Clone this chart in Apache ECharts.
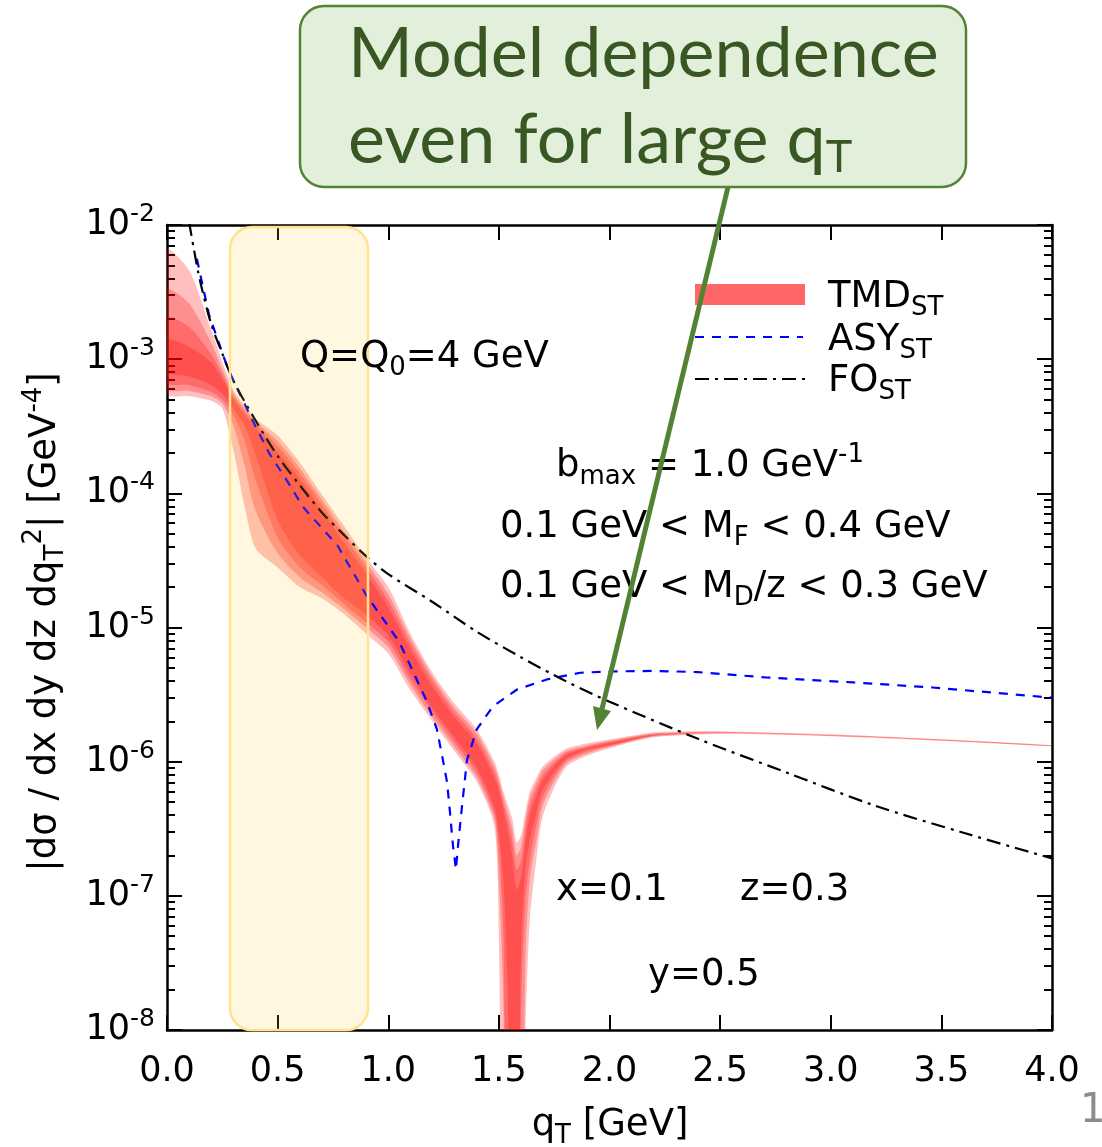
<!DOCTYPE html>
<html>
<head>
<meta charset="utf-8">
<script src="https://cdn.jsdelivr.net/npm/echarts@6/dist/echarts.min.js"></script>
<style>
  html, body { margin: 0; padding: 0; background: #fff; }
  #chart { width: 1102px; height: 1147px; }
</style>
</head>
<body>
<div id="chart"></div>
<script>
// q_T grid for the TMD band (GeV)
const tmdQ = [0, 0.1, 0.2, 0.25, 0.3, 0.35, 0.4, 0.5, 0.6, 0.7, 0.8, 0.9, 1.0, 1.1, 1.2, 1.3, 1.4, 1.48, 1.5,
  1.52, 1.54, 1.56, 1.58, 1.6, 1.62, 1.64, 1.67, 1.7, 1.8, 1.9, 2.0, 2.2, 2.5, 3.0, 3.5, 4.0]
// nested model bands, 0 = outermost, 3 = innermost (upper / lower edge)
const tmdHi0 = [6.5e-3, 4.6e-3, 1.65e-3, 9.5e-4, 5.9e-4, 4.5e-4, 3.6e-4, 2.7e-4, 1.7e-4, 9.8e-5, 5.7e-5, 3.3e-5,
  2.0e-5, 9.0e-6, 4.6e-6, 2.7e-6, 1.74e-6, 1.0e-6, 8.0e-7, 6.0e-7, 4.8e-7, 3.8e-7, 2.5e-7, 2.8e-7, 4.2e-7, 6.0e-7,
  7.6e-7, 9.3e-7, 1.24e-6, 1.37e-6, 1.46e-6, 1.65e-6, 1.68e-6, 1.60e-6, 1.47e-6, 1.33e-6]
const tmdLo0 = [5.5e-4, 5.3e-4, 4.9e-4, 4.3e-4, 2.1e-4, 8.1e-5, 3.9e-5, 2.8e-5, 2.0e-5, 1.65e-5, 1.26e-5, 9.0e-6,
  6.4e-6, 3.4e-6, 2.0e-6, 1.19e-6, 7.1e-7, 3.3e-7, 4.7e-8, 1e-10, 1e-10, 1e-10, 1e-10, 1e-10, 9e-9, 6.6e-8,
  1.9e-7, 4.0e-7, 9.0e-7, 1.11e-6, 1.26e-6, 1.52e-6, 1.61e-6, 1.55e-6, 1.43e-6, 1.30e-6]
const tmdHi1 = [3.28e-3, 2.6e-3, 1.33e-3, 8.4e-4, 5.6e-4, 4.3e-4, 3.45e-4, 2.45e-4, 1.54e-4, 9.0e-5, 5.2e-5, 3.06e-5,
  1.77e-5, 8.3e-6, 4.3e-6, 2.5e-6, 1.62e-6, 9.2e-7, 7.3e-7, 5.5e-7, 4.2e-7, 3.2e-7, 2.0e-7, 2.3e-7, 3.7e-7, 5.4e-7,
  7.0e-7, 8.7e-7, 1.19e-6, 1.32e-6, 1.43e-6, 1.62e-6, 1.67e-6, 1.585e-6, 1.46e-6, 1.32e-6]
const tmdLo1 = [6.0e-4, 5.8e-4, 5.3e-4, 4.7e-4, 3.2e-4, 1.62e-4, 7.45e-5, 3.57e-5, 2.37e-5, 1.83e-5, 1.37e-5, 1.0e-5,
  7.1e-6, 3.75e-6, 2.13e-6, 1.28e-6, 7.6e-7, 3.7e-7, 1.33e-7, 1.68e-8, 1e-10, 1e-10, 1e-10, 1e-10, 3.34e-8, 1.33e-7,
  2.6e-7, 4.8e-7, 9.5e-7, 1.15e-6, 1.29e-6, 1.54e-6, 1.63e-6, 1.56e-6, 1.44e-6, 1.31e-6]
const tmdHi2 = [2.03e-3, 1.74e-3, 1.09e-3, 7.7e-4, 5.3e-4, 4.1e-4, 3.3e-4, 2.25e-4, 1.41e-4, 8.3e-5, 4.8e-5, 2.8e-5,
  1.59e-5, 7.6e-6, 4.0e-6, 2.33e-6, 1.49e-6, 8.4e-7, 6.7e-7, 4.9e-7, 3.7e-7, 2.6e-7, 1.57e-7, 1.80e-7, 3.1e-7, 4.7e-7,
  6.3e-7, 8.0e-7, 1.15e-6, 1.29e-6, 1.40e-6, 1.60e-6, 1.65e-6, 1.575e-6, 1.455e-6, 1.315e-6]
const tmdLo2 = [6.7e-4, 6.4e-4, 5.7e-4, 5.0e-4, 3.82e-4, 2.49e-4, 1.26e-4, 4.7e-5, 2.8e-5, 2.07e-5, 1.49e-5, 1.09e-5,
  7.85e-6, 4.1e-6, 2.33e-6, 1.39e-6, 8.28e-7, 4.1e-7, 2.2e-7, 5.57e-8, 1e-10, 1e-10, 1e-10, 1.41e-8, 9.34e-8, 1.86e-7,
  3.4e-7, 5.5e-7, 1.0e-6, 1.19e-6, 1.31e-6, 1.56e-6, 1.64e-6, 1.565e-6, 1.445e-6, 1.31e-6]
const tmdHi3 = [1.39e-3, 1.24e-3, 9.5e-4, 7.1e-4, 5.0e-4, 3.89e-4, 3.1e-4, 2.03e-4, 1.28e-4, 7.45e-5, 4.3e-5, 2.53e-5,
  1.41e-5, 6.85e-6, 3.63e-6, 2.13e-6, 1.37e-6, 7.6e-7, 6.2e-7, 4.4e-7, 3.1e-7, 2.0e-7, 1.11e-7, 1.37e-7, 2.53e-7, 4.0e-7,
  5.57e-7, 7.35e-7, 1.11e-6, 1.26e-6, 1.38e-6, 1.58e-6, 1.645e-6, 1.57e-6, 1.45e-6, 1.31e-6]
const tmdLo3 = [8.0e-4, 7.45e-4, 6.4e-4, 5.5e-4, 4.3e-4, 3.2e-4, 1.93e-4, 6.3e-5, 3.45e-5, 2.37e-5, 1.65e-5, 1.24e-5,
  8.7e-6, 4.54e-6, 2.5e-6, 1.51e-6, 9.0e-7, 4.54e-7, 2.86e-7, 1.33e-7, 2.0e-8, 1e-10, 1e-10, 3.96e-8, 1.57e-7, 2.6e-7,
  4.2e-7, 6.3e-7, 1.04e-6, 1.23e-6, 1.33e-6, 1.57e-6, 1.645e-6, 1.57e-6, 1.45e-6, 1.31e-6]

// asymptotic (ASY) curve
const asyQ = [0.135, 0.19, 0.275, 0.39, 0.465, 0.54, 0.615, 0.77, 0.9, 1.05, 1.175, 1.22, 1.247, 1.266, 1.279, 1.293,
  1.306, 1.315, 1.333, 1.356, 1.40, 1.473, 1.582, 1.717, 1.867, 2.0, 2.2, 2.4, 2.71, 3.1, 3.46, 4.0]
const asyV = [5.6e-3, 2.14e-3, 8.5e-4, 3.4e-4, 1.95e-4, 1.26e-4, 7.9e-5, 4.1e-5, 1.75e-5, 7.8e-6, 2.8e-6, 1.74e-6,
  1.03e-6, 7.0e-7, 4.2e-7, 2.33e-7, 1.57e-7, 2.33e-7, 4.6e-7, 1.03e-6, 1.74e-6, 2.58e-6, 3.45e-6, 4.1e-6, 4.6e-6,
  4.7e-6, 4.75e-6, 4.65e-6, 4.24e-6, 3.9e-6, 3.57e-6, 3.0e-6]

// fixed order (FO) curve
const foQ = [0.10, 0.12, 0.15, 0.2, 0.25, 0.3, 0.4, 0.5, 0.6, 0.7, 0.8, 0.9, 1.0, 1.2, 1.4, 1.6, 1.8, 2.0, 2.4, 2.8,
  3.2, 3.6, 4.0]
const foV = [1.05e-2, 6.8e-3, 3.8e-3, 1.82e-3, 1.10e-3, 6.9e-4, 3.5e-4, 1.9e-4, 1.15e-4, 7.2e-5, 4.9e-5, 3.4e-5,
  2.5e-5, 1.55e-5, 9.3e-6, 6.0e-6, 4.0e-6, 2.8e-6, 1.48e-6, 8.3e-7, 4.7e-7, 2.95e-7, 1.9e-7]

// log axis minor ticks (2..9 in every decade)
const tickDecades = [-8, -7, -6, -5, -4, -3]
const tickMults = [2, 3, 4, 5, 6, 7, 8, 9]

const FONT = 'DejaVu Sans'
const minorTickVals = []
tickDecades.forEach(d => tickMults.forEach(m => minorTickVals.push(m * Math.pow(10, d))))

const rich = {
  m: { fontSize: 37, lineHeight: 48, fontFamily: FONT, verticalAlign: 'middle' },
  sub: { fontSize: 26, lineHeight: 26, fontFamily: FONT, verticalAlign: 'bottom' },
  sup: { fontSize: 26, lineHeight: 19, fontFamily: FONT, verticalAlign: 'top' }
}

function band (lo, hi, z) {
  return {
    type: 'custom',
    silent: true,
    clip: true,
    z: z,
    data: [[0, 1e-4]],
    renderItem: function (params, api) {
      const cs = params.coordSys
      const pts = []
      for (let i = 0; i < tmdQ.length; i++) pts.push(api.coord([tmdQ[i], hi[i]]))
      for (let i = tmdQ.length - 1; i >= 0; i--) pts.push(api.coord([tmdQ[i], lo[i]]))
      return {
        type: 'polygon',
        shape: { points: pts, smooth: 0.25 },
        style: { fill: 'rgba(255,0,0,0.25)' },
        clipPath: { type: 'rect', shape: { x: cs.x, y: cs.y, width: cs.width, height: cs.height } }
      }
    }
  }
}

function label (x, y, text, align) {
  return {
    type: 'text',
    x: x,
    y: y,
    z: 60,
    silent: true,
    style: { text: text, rich: rich, fill: '#000', font: '37px ' + FONT, align: align || 'left', verticalAlign: 'middle' }
  }
}

const chart = echarts.init(document.getElementById('chart'), null, { renderer: 'canvas' })

const xAxisCommon = {
  type: 'value',
  min: 0,
  max: 4,
  interval: 0.5,
  axisLine: { onZero: false, lineStyle: { color: '#000', width: 2.5 } },
  axisTick: { inside: true, length: 15, lineStyle: { color: '#000', width: 2 } },
  splitLine: { show: false }
}
const yAxisCommon = {
  type: 'log',
  logBase: 10,
  min: 1e-8,
  max: 1e-2,
  interval: 1,
  axisLine: { onZero: false, lineStyle: { color: '#000', width: 2.5 } },
  axisTick: { inside: true, length: 15, lineStyle: { color: '#000', width: 2 } },
  minorTick: { show: false },
  splitLine: { show: false }
}
// extra axes that only carry the minor ticks
const yMinorAxis = side => ({
  type: 'log',
  logBase: 10,
  min: 1e-8,
  max: 1e-2,
  position: side,
  axisLine: { show: false, onZero: false },
  axisLabel: { show: false },
  splitLine: { show: false },
  axisTick: { show: true, inside: true, length: 8, customValues: minorTickVals, lineStyle: { color: '#000', width: 2 } }
})

const option = {
  backgroundColor: '#fff',
  animation: false,
  grid: { left: 167, right: 50, top: 225, bottom: 117, containLabel: false },
  xAxis: [
    Object.assign({}, xAxisCommon, {
      position: 'bottom',
      axisLabel: { color: '#000', fontSize: 35, fontFamily: FONT, margin: 24, formatter: v => v.toFixed(1) }
    }),
    Object.assign({}, xAxisCommon, { position: 'top', axisLabel: { show: false } })
  ],
  yAxis: [
    Object.assign({}, yAxisCommon, {
      position: 'left',
      axisLabel: {
        margin: 12,
        formatter: v => '{b|10}{s|' + Math.round(Math.log10(v)) + '}',
        rich: {
          b: { fontSize: 35, lineHeight: 46, fontFamily: FONT, color: '#000' },
          s: { fontSize: 25, lineHeight: 18, fontFamily: FONT, color: '#000', verticalAlign: 'top' }
        }
      }
    }),
    Object.assign({}, yAxisCommon, { position: 'right', axisLabel: { show: false } }),
    yMinorAxis('left'),
    yMinorAxis('right')
  ],
  series: [
    band(tmdLo0, tmdHi0, 2),
    band(tmdLo1, tmdHi1, 2),
    band(tmdLo2, tmdHi2, 2),
    band(tmdLo3, tmdHi3, 2),
    {
      name: 'ASY',
      type: 'line',
      z: 3,
      symbol: 'none',
      clip: true,
      data: asyQ.map((q, i) => [q, asyV[i]]),
      lineStyle: { color: '#0000ff', width: 2.2, type: [9, 8] }
    },
    {
      name: 'FO',
      type: 'line',
      z: 4,
      symbol: 'none',
      smooth: 0.3,
      clip: true,
      data: foQ.map((q, i) => [q, foV[i]]),
      lineStyle: { color: '#000', width: 2.2, type: [14, 6, 3, 6] }
    }
  ],
  graphic: [
    // highlighted low-qT region
    {
      type: 'rect', z: 50, silent: true,
      shape: { x: 230, y: 227, width: 138, height: 803, r: 22 },
      style: { fill: 'rgba(255,200,40,0.15)', stroke: '#ffe38f', lineWidth: 2.5 }
    },
    // legend
    { type: 'rect', z: 60, shape: { x: 695, y: 284, width: 110, height: 21 }, style: { fill: 'rgba(255,0,0,0.6)' } },
    { type: 'line', z: 60, shape: { x1: 695, y1: 337, x2: 803, y2: 337 }, style: { stroke: '#0000ff', lineWidth: 2.2, lineDash: [9, 8] } },
    { type: 'line', z: 60, shape: { x1: 695, y1: 379, x2: 805, y2: 379 }, style: { stroke: '#000', lineWidth: 2.2, lineDash: [14, 6, 3, 6] } },
    label(828, 297, '{m|TMD}{sub|ST}'),
    label(828, 340, '{m|ASY}{sub|ST}'),
    label(828, 381, '{m|FO}{sub|ST}'),
    // annotations
    label(300, 357, '{m|Q=Q}{sub|0}{m|=4 GeV}'),
    label(556, 466, '{m|b}{sub|max}{m| = 1.0 GeV}{sup|-1}'),
    label(500, 527, '{m|0.1 GeV < M}{sub|F}{m| < 0.4 GeV}'),
    label(500, 587, '{m|0.1 GeV < M}{sub|D}{m|/z < 0.3 GeV}'),
    label(556, 890, '{m|x=0.1}'),
    label(740, 890, '{m|z=0.3}'),
    label(648, 975, '{m|y=0.5}'),
    // axis titles
    label(610, 1125, '{m|q}{sub|T}{m| [GeV]}', 'center'),
    {
      type: 'text', z: 60, silent: true, x: 45, y: 622, rotation: Math.PI / 2,
      style: {
        text: '{m||dσ / dx dy dz dq}{sub|T}{sup|2}{m|| [GeV}{sup|-4}{m|]}',
        rich: rich, fill: '#000', font: '37px ' + FONT, align: 'center', verticalAlign: 'middle'
      }
    },
    // callout
    {
      type: 'rect', z: 70, silent: true,
      shape: { x: 300, y: 6, width: 666, height: 181, r: 24 },
      style: { fill: '#e2efda', stroke: '#548235', lineWidth: 2.5 }
    },
    {
      type: 'text', z: 71, silent: true, x: 348, y: 54,
      style: { text: 'Model dependence', fill: '#385723', font: '70px Lato', verticalAlign: 'middle' }
    },
    {
      type: 'text', z: 71, silent: true, x: 348, y: 140,
      style: {
        text: '{a|even for large q}{b|T}',
        fill: '#385723',
        verticalAlign: 'middle',
        rich: {
          a: { fontSize: 70, fontFamily: 'Lato', lineHeight: 80, verticalAlign: 'middle' },
          b: { fontSize: 45, fontFamily: 'Lato', lineHeight: 38, verticalAlign: 'bottom' }
        }
      }
    },
    { type: 'line', z: 72, silent: true, shape: { x1: 728, y1: 187, x2: 602, y2: 709 }, style: { stroke: '#548235', lineWidth: 5 } },
    { type: 'polygon', z: 72, silent: true, shape: { points: [[597, 730], [611, 711], [593, 706]] }, style: { fill: '#548235' } },
    // slide number
    {
      type: 'text', z: 60, silent: true, x: 1080, y: 1112,
      style: { text: '1', fill: '#8c8c8c', font: '40px ' + FONT, verticalAlign: 'middle' }
    }
  ]
}

chart.setOption(option)
window.addEventListener('resize', () => chart.resize())
</script>
</body>
</html>
